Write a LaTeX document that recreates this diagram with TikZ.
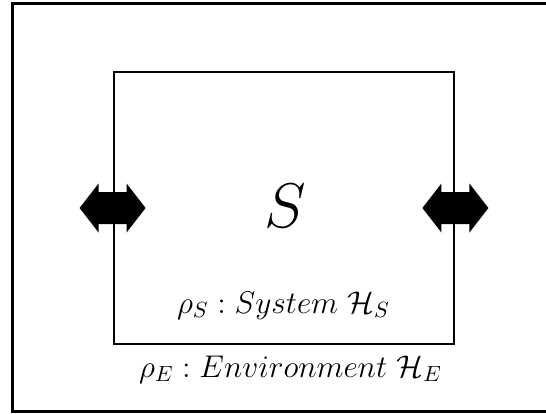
\RequirePackage{fix-cm}
\documentclass[tikz,border=0pt]{standalone}
\usepackage{amsmath,amssymb}
\usepackage{tikz}
\usetikzlibrary{positioning}
% filled two-headed arrow centred on a point
\newcommand{\exch}[1]{\fill (#1) ++(-33,0) -- ++(19,24.5) -- ++(0,-8.5) -- ++(28,0) -- ++(0,8.5)
  -- ++(19,-24.5) -- ++(-19,-24.5) -- ++(0,8.5) -- ++(-28,0) -- ++(0,-8.5) -- cycle;}

\begin{document}
\begin{tikzpicture}[
  x=0.5pt, y=0.5pt,
  box/.style={draw, line width=1.4pt, minimum width=170pt, minimum height=136pt, inner sep=0pt},
  lbl/.style={anchor=base, inner sep=0pt}]
\useasboundingbox (0,0) rectangle (546,413);
\clip (0,0) rectangle (546,413);
\draw[line width=1.5pt] (12,1.5) rectangle (560,409.5);
\node[box] (sys) at (284,205) {};
\node[lbl, font=\fontsize{31.5}{38}\selectfont] (lblS) at (285,186) {$S$};
\node[lbl, font=\fontsize{15.7}{19}\selectfont] (lblsys) at (283.5,100) {$\rho_S : System\ \mathcal{H}_S$};
\node[lbl, font=\fontsize{15.7}{19}\selectfont] (lblenv) at (290.5,36) {$\rho_E : Environment\ \mathcal{H}_E$};
\exch{sys.west}
\exch{sys.east}
\end{tikzpicture}
\end{document}
